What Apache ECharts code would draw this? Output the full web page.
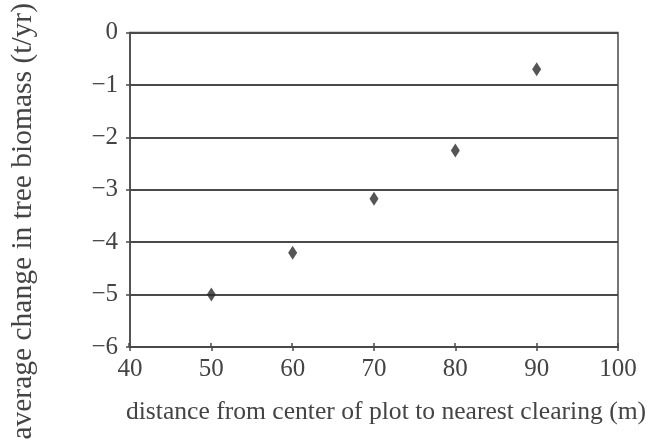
<!DOCTYPE html>
<html><head><meta charset="utf-8">
<script src="https://cdn.jsdelivr.net/npm/echarts@6/dist/echarts.min.js"></script>
<style>html,body{margin:0;padding:0;background:#fff}#c{width:652px;height:443px}</style>
</head><body><div id="c"></div>
<script>
const distances = [50, 60, 70, 80, 90];
const biomassChange = [-5.0, -4.2, -3.17, -2.25, -0.7];
const xTitle = 'distance from center of plot to nearest clearing (m)';
const yTitle = 'average change in tree biomass (t/yr)';

const font = 'Liberation Serif';
const lineCol = '#4a4a4a';
const textCol = '#444';
const gridRect = {left: 129, top: 32, right: 34, bottom: 96};
const chart = echarts.init(document.getElementById('c'));
chart.setOption({
  animation: false,
  grid: [
    Object.assign({show: true, borderColor: lineCol, borderWidth: 1.5}, gridRect),
    Object.assign({show: false}, gridRect)
  ],
  xAxis: [{
    type: 'value', min: 40, max: 100, interval: 10, position: 'bottom', gridIndex: 0,
    axisLine: {show: true, onZero: false, lineStyle: {color: lineCol, width: 1.5}},
    axisTick: {show: true, inside: false, length: 4, lineStyle: {color: lineCol, width: 1.5}},
    axisLabel: {fontFamily: font, fontSize: 25, color: textCol, margin: 10},
    splitLine: {show: false},
    name: xTitle, nameLocation: 'middle', nameGap: 52,
    nameTextStyle: {fontFamily: font, fontSize: 25.6, color: textCol, padding: [0, 0, 0, 24]}
  }, {
    type: 'value', min: 40, max: 100, interval: 10, position: 'bottom', gridIndex: 1,
    axisLine: {show: false, onZero: false},
    axisTick: {show: true, inside: true, length: 4, lineStyle: {color: lineCol, width: 1.5}},
    axisLabel: {show: false}, splitLine: {show: false}
  }],
  yAxis: [{
    type: 'value', min: -6, max: 0, interval: 1, gridIndex: 0,
    axisLine: {show: true, onZero: false, lineStyle: {color: lineCol, width: 1.5}},
    axisTick: {show: true, inside: false, length: 4, lineStyle: {color: lineCol, width: 1.5}},
    axisLabel: {fontFamily: font, fontSize: 25, color: textCol, margin: 12,
      formatter: v => String(v).replace('-', '\u2212')},
    splitLine: {show: true, lineStyle: {color: lineCol, width: 1.8}},
    name: yTitle, nameLocation: 'middle', nameGap: 92, nameRotate: 90,
    nameTextStyle: {fontFamily: font, fontSize: 29.5, color: textCol, padding: [0, 63, 0, 0]}
  }, {
    type: 'value', min: -6, max: 0, interval: 1, gridIndex: 1, show: false,
    axisLine: {onZero: false}
  }],
  series: [{
    type: 'scatter', xAxisIndex: 0, yAxisIndex: 0,
    data: distances.map((d, i) => [d, biomassChange[i]]),
    symbol: 'diamond', symbolSize: [9, 14],
    itemStyle: {color: '#2a2a2a'}
  }]
});
</script></body></html>
